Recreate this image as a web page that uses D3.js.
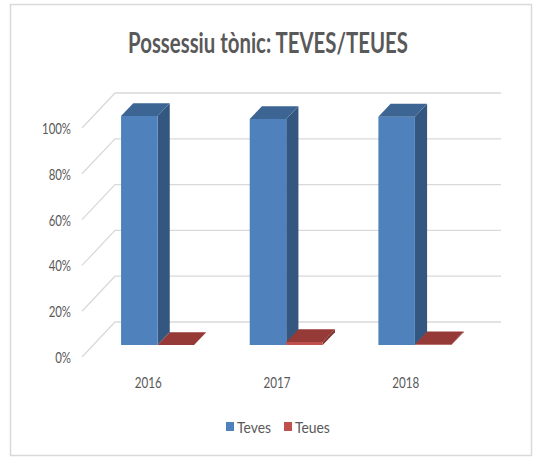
<!DOCTYPE html>
<html>
<head>
<meta charset="utf-8">
<script src="https://cdn.jsdelivr.net/npm/d3@7"></script>
<style>
  html, body { margin: 0; padding: 0; background: #fff; }
  svg { display: block; }
  text { font-family: Lato, "Open Sans", "Liberation Sans", sans-serif; fill: #595959; }
</style>
</head>
<body>
<svg id="chart" width="533" height="457"></svg>
<script>
// Chart data
const years = ["2016", "2017", "2018"];
const teves = [100, 98.7, 99.7];
const teues = [0, 1.3, 0.3];
const seriesNames = ["Teves", "Teues"];
const yTicks = [0, 20, 40, 60, 80, 100];
const title = "Possessiu tònic: TEVES/TEUES";

const W = 533, H = 457;
const svg = d3.select("#chart");

// Place a text at (cx, cy) squeezed horizontally by factor sx
function placeText(parent, str, cx, cy, size, anchor, sx, weight) {
  const g = parent.append("g").attr("transform", `translate(${cx},${cy}) scale(${sx},1)`);
  return g.append("text")
    .attr("x", 0).attr("y", 0)
    .attr("text-anchor", anchor)
    .attr("font-size", size)
    .attr("font-weight", weight || "normal")
    .text(str);
}
// Natural width of a string at a given size/weight
function measure(str, size, weight) {
  const t = svg.append("text").attr("font-size", size).attr("font-weight", weight || "normal").text(str);
  const w = t.node().getComputedTextLength();
  t.remove();
  return w;
}

// Frame
svg.append("rect")
  .attr("x", 10.5).attr("y", 4.5)
  .attr("width", W - 12).attr("height", H - 6)
  .attr("fill", "#fff").attr("stroke", "#d9d9d9").attr("stroke-width", 1.5);

// Oblique projection: depth d in [0,1] shifts points right and up
const DX = 33, DY = 35;
const proj = (x, y, d) => [x + d * DX, y - d * DY];

// Scales defined on the front floor plane (depth 0)
const x = d3.scaleBand().domain(years).range([82, 468]).paddingInner(0).paddingOuter(0);
const y = d3.scaleLinear().domain([0, 100]).range([357, 128]);
const series = d3.scaleBand().domain(seriesNames).range([-36.5, 36.5]);

const barFront = 0.34, barBack = 0.71;
const colors = {
  Teves: { front: "#4f81bd", top: "#3d6594", side: "#34577f" },
  Teues: { front: "#c0504d", top: "#963a37", side: "#7f2f2d" }
};

// Gridlines: diagonal on side floor, horizontal on back wall
const grid = svg.append("g").attr("stroke", "#d9d9d9").attr("stroke-width", 1.3).attr("fill", "none");
yTicks.forEach(t => {
  const p0 = proj(x.range()[0], y(t), 0);
  const p1 = proj(x.range()[0], y(t), 1);
  const p2 = proj(x.range()[1], y(t), 1);
  grid.append("path").attr("d", d3.line()([p0, p1, p2]));
});

// Y tick labels
const tickSize = 16;
const tickSx = 29 / measure("100%", tickSize);
const gTicks = svg.append("g");
yTicks.forEach(t => placeText(gTicks, t + "%", 71, y(t) + 6, tickSize, "end", tickSx));

// 3D bars
const bars = [];
years.forEach((yr, i) => {
  bars.push({ year: yr, name: "Teves", value: teves[i] });
  bars.push({ year: yr, name: "Teues", value: teues[i] });
});

const gBars = svg.append("g");
bars.forEach(b => {
  const x0 = x(b.year) + x.bandwidth() / 2 + series(b.name);
  const x1 = x0 + series.bandwidth();
  const yb = y(0), yt = y(b.value);
  const c = colors[b.name];
  const poly = pts => gBars.append("polygon").attr("points", pts.map(p => p.join(",")).join(" "));
  // side face
  poly([proj(x1, yb, barFront), proj(x1, yb, barBack), proj(x1, yt, barBack), proj(x1, yt, barFront)])
    .attr("fill", c.side);
  // front face
  poly([proj(x0, yb, barFront), proj(x1, yb, barFront), proj(x1, yt, barFront), proj(x0, yt, barFront)])
    .attr("fill", c.front);
  // top face
  poly([proj(x0, yt, barFront), proj(x1, yt, barFront), proj(x1, yt, barBack), proj(x0, yt, barBack)])
    .attr("fill", c.top);
});

// Category labels
const catSx = 27 / measure("2016", tickSize);
const gCats = svg.append("g");
years.forEach(d => placeText(gCats, d, x(d) + x.bandwidth() / 2 + 2, 388, tickSize, "middle", catSx));

// Title
const titleSize = 28;
const titleSx = 280 / measure(title, titleSize, "bold");
placeText(svg, title, 268, 53, titleSize, "middle", titleSx, "bold");

// Legend
const legend = svg.append("g");
const legendX = [226, 284];
const legSize = 15;
const legSx = 34 / measure("Teves", legSize);
seriesNames.forEach((n, i) => {
  legend.append("rect")
    .attr("x", legendX[i]).attr("y", 422)
    .attr("width", 8).attr("height", 9)
    .attr("fill", colors[n].front);
  placeText(legend, n, legendX[i] + 11, 432.5, legSize, "start", legSx);
});
</script>
</body>
</html>
